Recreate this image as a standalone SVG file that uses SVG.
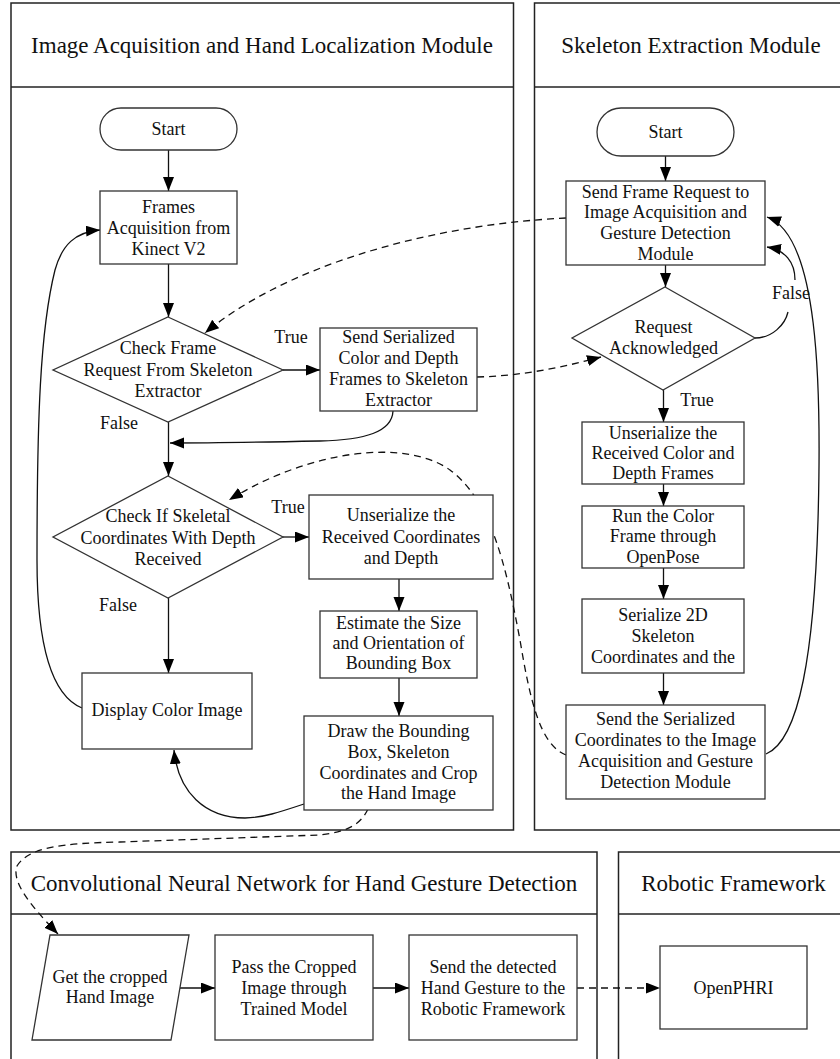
<svg xmlns="http://www.w3.org/2000/svg" width="840" height="1059" viewBox="0 0 840 1059">
  <style>
    text { font-family: "Liberation Serif", "Times New Roman", serif; fill: #111; text-anchor: middle; }
    .hdr { font-size: 23px; }
    .t { font-size: 18px; }
    .frame { fill: none; stroke: #222; stroke-width: 1.5; }
    .box { fill: #fff; stroke: #333; stroke-width: 1.3; }
    .ln { fill: none; stroke: #111; stroke-width: 1.3; }
    .dash { fill: none; stroke: #111; stroke-width: 1.3; stroke-dasharray: 7 5; }
  </style>
  <defs>
    <marker id="arr" markerUnits="userSpaceOnUse" markerWidth="15" markerHeight="12" refX="14" refY="5.5" orient="auto">
      <path d="M0,0 L14,5.5 L0,11 z" fill="#000" stroke="none"/>
    </marker>
  </defs>
  <rect width="840" height="1059" fill="#fff"/>

  <!-- module frames -->
  <g id="module-image-acquisition">
    <rect class="frame" x="11" y="3" width="502.5" height="827"/>
    <line class="frame" x1="11" y1="87" x2="513.5" y2="87"/>
    <text class="hdr" x="262" y="53">Image Acquisition and Hand Localization Module</text>
  </g>
  <g id="module-skeleton">
    <rect class="frame" x="534.5" y="3" width="320" height="827"/>
    <line class="frame" x1="534.5" y1="87" x2="845" y2="87"/>
    <text class="hdr" x="691" y="53">Skeleton Extraction Module</text>
  </g>
  <g id="module-cnn">
    <rect class="frame" x="11" y="852" width="586" height="230"/>
    <line class="frame" x1="11" y1="914" x2="597" y2="914"/>
    <text class="hdr" x="304" y="891">Convolutional Neural Network for Hand Gesture Detection</text>
  </g>
  <g id="module-robotic">
    <rect class="frame" x="618.5" y="852" width="240" height="230"/>
    <line class="frame" x1="618.5" y1="914" x2="845" y2="914"/>
    <text class="hdr" x="733.5" y="891">Robotic Framework</text>
  </g>

  <!-- connectors -->
  <g id="connectors">
    <!-- left column -->
    <line class="ln" x1="168.5" y1="150" x2="168.5" y2="191" marker-end="url(#arr)"/>
    <line class="ln" x1="168.5" y1="264" x2="168.5" y2="317" marker-end="url(#arr)"/>
    <line class="ln" x1="283" y1="370" x2="320" y2="370" marker-end="url(#arr)"/>
    <line class="ln" x1="168.5" y1="422" x2="168.5" y2="476" marker-end="url(#arr)"/>
    <path class="ln" d="M393,411 C392,432 365,440 320,441 C270,442 220,443 170,443" marker-end="url(#arr)"/>
    <line class="ln" x1="283" y1="537" x2="309" y2="537" marker-end="url(#arr)"/>
    <line class="ln" x1="168.5" y1="598" x2="168.5" y2="673" marker-end="url(#arr)"/>
    <line class="ln" x1="399" y1="579" x2="399" y2="611" marker-end="url(#arr)"/>
    <line class="ln" x1="399" y1="678" x2="399" y2="716" marker-end="url(#arr)"/>
    <path class="ln" d="M82,708 C50,695 37,640 37,560 C37,420 40,330 55,270 C62,245 75,232 100,230" marker-end="url(#arr)"/>
    <path class="ln" d="M304,804 C280,812 262,818 245,818 C205,818 178,792 174,750" marker-end="url(#arr)"/>

    <!-- right column -->
    <line class="ln" x1="665.5" y1="156" x2="665.5" y2="181" marker-end="url(#arr)"/>
    <line class="ln" x1="665.5" y1="265" x2="665.5" y2="287" marker-end="url(#arr)"/>
    <line class="ln" x1="663.5" y1="390" x2="663.5" y2="422" marker-end="url(#arr)"/>
    <line class="ln" x1="663.5" y1="484" x2="663.5" y2="506" marker-end="url(#arr)"/>
    <line class="ln" x1="663.5" y1="568" x2="663.5" y2="599" marker-end="url(#arr)"/>
    <line class="ln" x1="663.5" y1="673" x2="663.5" y2="705" marker-end="url(#arr)"/>
    <path class="ln" d="M755,338 C772,338 785,325 788,312"/>
    <path class="ln" d="M795,280 C795,262 785,250 767,247" marker-end="url(#arr)"/>
    <path class="ln" d="M766,754 C800,740 814,650 818,520 C822,380 818,235 767,217" marker-end="url(#arr)"/>

    <!-- cross-module messages -->
    <path class="dash" d="M566,218 C420,225 280,270 205,333" marker-end="url(#arr)"/>
    <path class="dash" d="M477,377 C520,376 560,368 601,357" marker-end="url(#arr)"/>
    <path class="dash" d="M566,755 C540,745 530,700 520,640 C505,560 490,500 450,470 C405,438 310,450 229,500" marker-end="url(#arr)"/>
    <path class="dash" d="M368,809 C360,826 345,832 320,835 L120,842 C60,843 28,848 17,866 C12,880 25,900 58,934" marker-end="url(#arr)"/>

    <!-- bottom row -->
    <line class="ln" x1="180" y1="988" x2="215" y2="988" marker-end="url(#arr)"/>
    <line class="ln" x1="373" y1="988" x2="409" y2="988" marker-end="url(#arr)"/>
    <line class="dash" x1="577" y1="988" x2="660" y2="988" marker-end="url(#arr)"/>

    <!-- branch labels -->
    <text class="t" x="291" y="343">True</text>
    <text class="t" x="119" y="429">False</text>
    <text class="t" x="288" y="513">True</text>
    <text class="t" x="118" y="611">False</text>
    <text class="t" x="697" y="406">True</text>
    <text class="t" x="791" y="299">False</text>
  </g>

  <!-- left column nodes -->
  <g id="start-left">
    <rect class="box" x="100" y="108" width="137" height="42" rx="21"/>
    <text class="t" x="168.5" y="135">Start</text>
  </g>
  <g id="frames-acquisition">
    <rect class="box" x="100" y="191" width="137" height="73"/>
    <text class="t" x="168.5" y="213">Frames</text>
    <text class="t" x="168.5" y="234">Acquisition from</text>
    <text class="t" x="168.5" y="255">Kinect V2</text>
  </g>
  <g id="check-frame-request">
    <polygon class="box" points="168,317 283,370 168,422 53,370"/>
    <text class="t" x="168" y="354">Check Frame</text>
    <text class="t" x="168" y="376">Request From Skeleton</text>
    <text class="t" x="168" y="397">Extractor</text>
  </g>
  <g id="send-serialized-frames">
    <rect class="box" x="320" y="328" width="157" height="83"/>
    <text class="t" x="398.5" y="343">Send Serialized</text>
    <text class="t" x="398.5" y="364">Color and Depth</text>
    <text class="t" x="398.5" y="385">Frames to Skeleton</text>
    <text class="t" x="398.5" y="406">Extractor</text>
  </g>
  <g id="check-skeletal">
    <polygon class="box" points="168,476 283,537 168,598 53,537"/>
    <text class="t" x="168" y="522">Check If Skeletal</text>
    <text class="t" x="168" y="544">Coordinates With Depth</text>
    <text class="t" x="168" y="565">Received</text>
  </g>
  <g id="unserialize-coordinates">
    <rect class="box" x="309" y="495" width="184" height="84"/>
    <text class="t" x="401" y="521">Unserialize the</text>
    <text class="t" x="401" y="543">Received Coordinates</text>
    <text class="t" x="401" y="564">and Depth</text>
  </g>
  <g id="estimate-box">
    <rect class="box" x="320" y="611" width="157" height="67"/>
    <text class="t" x="398.5" y="629">Estimate the Size</text>
    <text class="t" x="398.5" y="649">and Orientation of</text>
    <text class="t" x="398.5" y="669">Bounding Box</text>
  </g>
  <g id="draw-bounding-box">
    <rect class="box" x="304" y="716" width="189" height="94"/>
    <text class="t" x="398.5" y="737">Draw the Bounding</text>
    <text class="t" x="398.5" y="758">Box, Skeleton</text>
    <text class="t" x="398.5" y="779">Coordinates and Crop</text>
    <text class="t" x="398.5" y="799">the Hand Image</text>
  </g>
  <g id="display-color-image">
    <rect class="box" x="82" y="673" width="170" height="76"/>
    <text class="t" x="167" y="716">Display Color Image</text>
  </g>

  <!-- right column nodes -->
  <g id="start-right">
    <rect class="box" x="597" y="108" width="137" height="48" rx="24"/>
    <text class="t" x="665.5" y="138">Start</text>
  </g>
  <g id="send-frame-request">
    <rect class="box" x="566" y="181" width="199" height="84"/>
    <text class="t" x="665.5" y="198">Send Frame Request to</text>
    <text class="t" x="665.5" y="218">Image Acquisition and</text>
    <text class="t" x="665.5" y="239">Gesture Detection</text>
    <text class="t" x="665.5" y="260">Module</text>
  </g>
  <g id="request-acknowledged">
    <polygon class="box" points="665,287 755,338 663,390 572,338"/>
    <text class="t" x="663.5" y="333">Request</text>
    <text class="t" x="663.5" y="354">Acknowledged</text>
  </g>
  <g id="unserialize-frames">
    <rect class="box" x="582" y="422" width="162" height="62"/>
    <text class="t" x="663" y="439">Unserialize the</text>
    <text class="t" x="663" y="459">Received Color and</text>
    <text class="t" x="663" y="479">Depth Frames</text>
  </g>
  <g id="run-openpose">
    <rect class="box" x="582" y="506" width="162" height="62"/>
    <text class="t" x="663" y="522">Run the Color</text>
    <text class="t" x="663" y="542">Frame through</text>
    <text class="t" x="663" y="563">OpenPose</text>
  </g>
  <g id="serialize-skeleton">
    <rect class="box" x="582" y="599" width="162" height="74"/>
    <text class="t" x="663" y="621">Serialize 2D</text>
    <text class="t" x="663" y="642">Skeleton</text>
    <text class="t" x="663" y="663">Coordinates and the</text>
  </g>
  <g id="send-serialized-coordinates">
    <rect class="box" x="566" y="705" width="199" height="94"/>
    <text class="t" x="665.5" y="725">Send the Serialized</text>
    <text class="t" x="665.5" y="746">Coordinates to the Image</text>
    <text class="t" x="665.5" y="767">Acquisition and Gesture</text>
    <text class="t" x="665.5" y="788">Detection Module</text>
  </g>

  <!-- bottom row nodes -->
  <g id="get-cropped-hand">
    <polygon class="box" points="50,935 189,935 171,1040 32,1040"/>
    <text class="t" x="110" y="983">Get the cropped</text>
    <text class="t" x="110" y="1003">Hand Image</text>
  </g>
  <g id="pass-trained-model">
    <rect class="box" x="215" y="935" width="158" height="105"/>
    <text class="t" x="294" y="973">Pass the Cropped</text>
    <text class="t" x="294" y="994">Image through</text>
    <text class="t" x="294" y="1015">Trained Model</text>
  </g>
  <g id="send-detected-gesture">
    <rect class="box" x="409" y="935" width="168" height="105"/>
    <text class="t" x="493" y="973">Send the detected</text>
    <text class="t" x="493" y="994">Hand Gesture to the</text>
    <text class="t" x="493" y="1015">Robotic Framework</text>
  </g>
  <g id="openphri">
    <rect class="box" x="660" y="946" width="147" height="83"/>
    <text class="t" x="733.5" y="994">OpenPHRI</text>
  </g>
</svg>
